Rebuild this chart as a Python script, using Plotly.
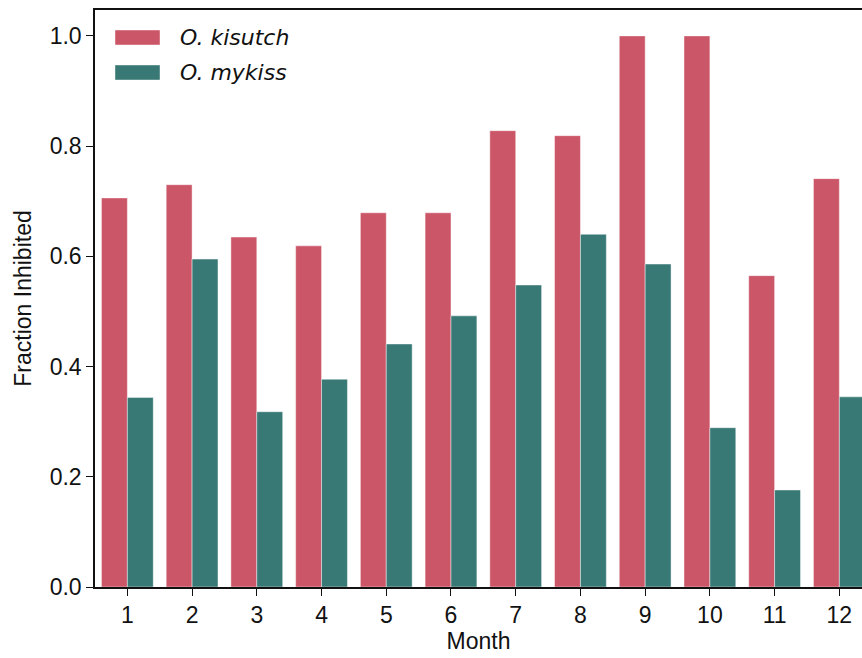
import plotly.graph_objects as go

# Monthly fraction of samples inhibited, per species
months = [1, 2, 3, 4, 5, 6, 7, 8, 9, 10, 11, 12]
kisutch = [0.706, 0.730, 0.635, 0.619, 0.679, 0.679, 0.828, 0.819, 1.0, 1.0, 0.565, 0.741]
mykiss = [0.344, 0.595, 0.318, 0.377, 0.441, 0.492, 0.548, 0.640, 0.586, 0.289, 0.176, 0.345]
y_ticks = [0.0, 0.2, 0.4, 0.6, 0.8, 1.0]

RED = "rgb(203,86,104)"
TEAL = "rgb(56,120,117)"
EDGE = "rgba(255,255,255,0.55)"

W, H = 862, 658
L, T, B, R = 95, 10, 71, 0
PW, PH = W - L - R, H - T - B

fig = go.Figure()
fig.add_trace(go.Bar(x=months, y=kisutch, name="O. kisutch", marker_color=RED,
                     marker_line=dict(color=EDGE, width=0.8), showlegend=False))
fig.add_trace(go.Bar(x=months, y=mykiss, name="O. mykiss", marker_color=TEAL,
                     marker_line=dict(color=EDGE, width=0.8), showlegend=False))


def px_x(p):
    return (p - L) / PW


def px_y(p):
    return (H - B - p) / PH


# Hand-drawn legend (wide patches, italic species names)
shapes = []
annotations = []
for color, label, y0, y1 in [(RED, "<i>O. kisutch</i>", 30, 45), (TEAL, "<i>O. mykiss</i>", 65, 80)]:
    shapes.append(dict(type="rect", xref="paper", yref="paper",
                       x0=px_x(115), x1=px_x(160), y0=px_y(y1), y1=px_y(y0),
                       fillcolor=color, line=dict(color=EDGE, width=0.8)))
    annotations.append(dict(xref="paper", yref="paper", x=px_x(178), y=px_y((y0 + y1) / 2),
                            xanchor="left", yanchor="middle", text=label, showarrow=False,
                            font=dict(family="DejaVu Sans", size=22, color="#111")))

axis_font = dict(family="Liberation Sans, Arial, sans-serif", size=23, color="#111")

fig.update_layout(
    width=W, height=H,
    margin=dict(l=L, r=R, t=T, b=B, pad=0),
    paper_bgcolor="white", plot_bgcolor="white",
    barmode="group", bargap=0.2, bargroupgap=0,
    shapes=shapes, annotations=annotations,
    font=axis_font,
    xaxis=dict(range=[0.5, 12.35], tickmode="array", tickvals=months,
               ticktext=[str(m) for m in months],
               showline=True, linecolor="#111", linewidth=1.5, mirror=True,
               ticks="outside", ticklen=7, tickwidth=1.3, tickcolor="#111",
               showgrid=False, zeroline=False, tickfont=axis_font,
               title=dict(text="Month", font=axis_font, standoff=6)),
    yaxis=dict(range=[0, 1.047], tickmode="array", tickvals=y_ticks,
               ticktext=[f"{v:.1f}" for v in y_ticks],
               showline=True, linecolor="#111", linewidth=1.5, mirror=False,
               ticks="outside", ticklen=7, tickwidth=1.3, tickcolor="#111",
               showgrid=False, zeroline=False, tickfont=axis_font,
               title=dict(text="Fraction Inhibited", font=axis_font, standoff=12)),
)

fig.write_html("out.html")
